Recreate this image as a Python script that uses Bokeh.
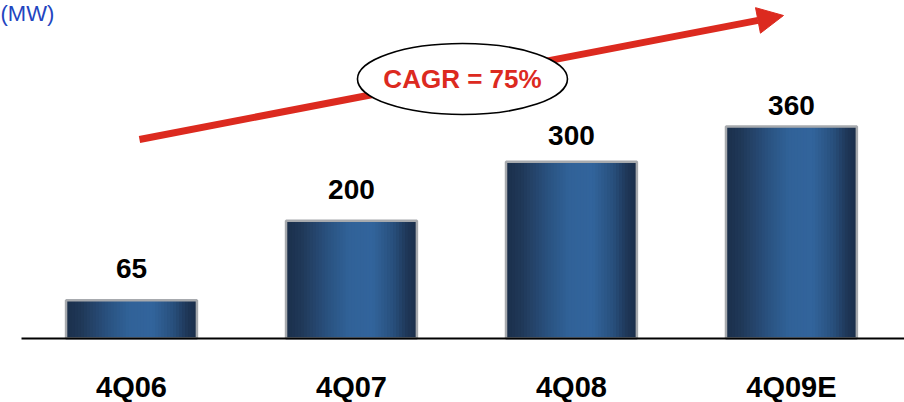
from bokeh.plotting import figure
from bokeh.models import ColumnDataSource, Range1d, Arrow, NormalHead, Label
from bokeh.core.properties import value
from bokeh.embed import file_html
from bokeh.resources import INLINE

# ---- data ----
categories = ["4Q06", "4Q07", "4Q08", "4Q09E"]
capacity_mw = [65, 200, 300, 360]
unit_label = "(MW)"
cagr_text = "CAGR = 75%"

# ---- styles ----
FONT = "Liberation Sans"
RED = "#dc2a1f"
BAR_W = 0.595
label_gap_px = [32, 31, 26, 21]

idx = list(range(len(categories)))

p = figure(width=904, height=402, output_backend="svg", toolbar_location=None,
           x_range=Range1d(-0.5955, 3.514), y_range=Range1d(-108.7, 574.0),
           x_axis_location=None, y_axis_location=None, min_border=0)
p.outline_line_color = None
p.xgrid.visible = False
p.ygrid.visible = False
p.background_fill_color = "white"

# trend arrow (drawn under glyphs so the ellipse covers it)
arrow = Arrow(end=NormalHead(size=26, fill_color=RED, line_color=RED, line_width=1),
              x_start=0.0363, y_start=338, x_end=2.964, y_end=548.5,
              line_color=RED, line_width=7, level="underlay")
p.add_layout(arrow)

# gradient bars built from overlapping strips
stops = [(0.0, (0x1b, 0x2f, 0x4b)), (0.12, (0x20, 0x38, 0x58)), (0.32, (0x2a, 0x52, 0x80)),
         (0.48, (0x31, 0x62, 0x98)), (0.66, (0x32, 0x64, 0x9c)), (0.82, (0x28, 0x4f, 0x7c)),
         (0.93, (0x1e, 0x36, 0x56)), (1.0, (0x1b, 0x2e, 0x4a))]


def grad(t):
    for (t0, c0), (t1, c1) in zip(stops[:-1], stops[1:]):
        if t0 <= t <= t1:
            f = (t - t0) / (t1 - t0)
            c = [round(a + (b - a) * f) for a, b in zip(c0, c1)]
            return "#%02x%02x%02x" % tuple(c)
    return "#1b2e4a"


n = 44
sw = BAR_W / n
for k in range(n):
    p.quad(left=[i - BAR_W / 2 + sw * k for i in idx], right=[i + BAR_W / 2 for i in idx],
           top=capacity_mw, bottom=[0] * len(idx),
           fill_color=grad((k + 0.5) / n), line_color=None)

p.vbar(x=idx, top=capacity_mw, bottom=0, width=BAR_W, fill_color=None,
       line_color="#a7aaae", line_width=2.5)

# baseline
p.segment(x0=[idx[0] - 0.5], y0=[0], x1=[p.x_range.end], y1=[0],
          line_color="black", line_width=2)

# value labels
src = ColumnDataSource(dict(x=idx, y=capacity_mw, t=[str(v) for v in capacity_mw],
                            off=[-g for g in label_gap_px]))
p.text(x="x", y="y", text="t", y_offset="off", source=src,
       text_align="center", text_baseline="alphabetic",
       text_font=value(FONT), text_font_style="bold", text_font_size="28px",
       text_color="black")

# category labels
p.text(x=idx, y=[0] * len(idx), text=categories, y_offset=49,
       text_align="center", text_baseline="alphabetic",
       text_font=value(FONT), text_font_style="bold", text_font_size="29px",
       text_color="black")

# CAGR ellipse + text
p.ellipse(x=[1.5046], y=[440.7], width=210, height=71,
          width_units="screen", height_units="screen",
          fill_color="white", line_color="black", line_width=1.6)
p.text(x=[1.5046], y=[440.7], text=[cagr_text], text_align="center", text_baseline="middle",
       text_font=value(FONT), text_font_style="bold", text_font_size="26px",
       text_color=RED)

# unit label
p.add_layout(Label(x=p.x_range.start, y=p.y_range.end, text=unit_label,
                   text_align="left", text_baseline="top",
                   text_font=FONT, text_font_size="22px", text_color="#2345c0"))

open("out.html", "w").write(file_html(p, INLINE))
